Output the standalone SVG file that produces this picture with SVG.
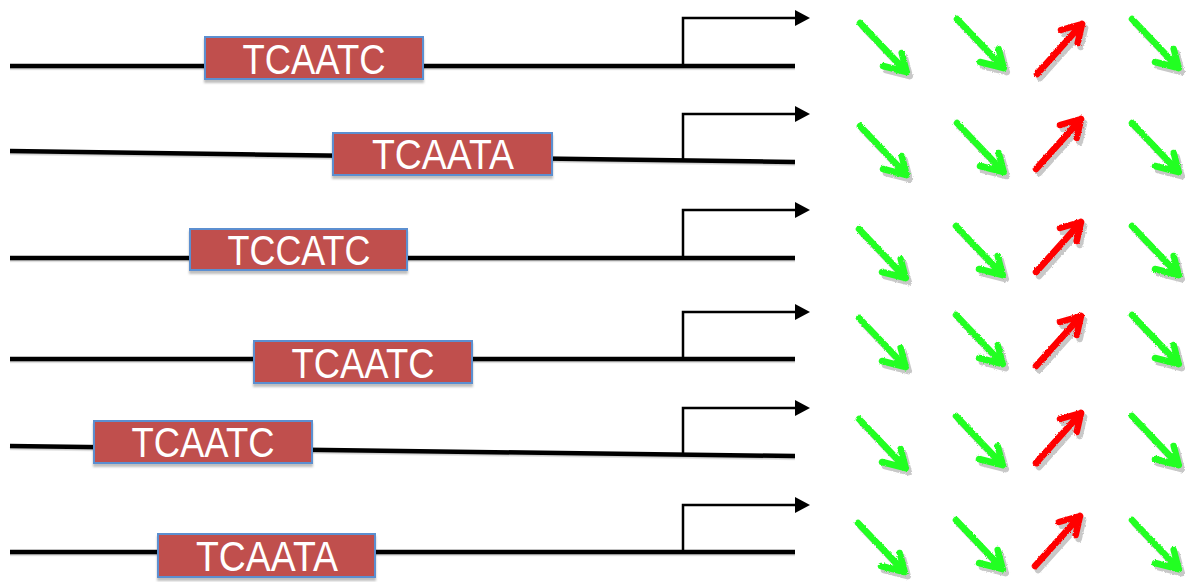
<svg xmlns="http://www.w3.org/2000/svg" xmlns:xlink="http://www.w3.org/1999/xlink" width="1195" height="582" viewBox="0 0 1195 582">
  <style>
    .strand { stroke: #000; stroke-width: 4.5; fill: none; }
    .tss { stroke: #000; stroke-width: 2.5; fill: none; }
    .tss-head { fill: #000; }
    .motif rect { fill: #C0504D; stroke: #5B8FD0; stroke-width: 2; }
    .motif text { fill: #fff; font-family: "Liberation Sans", Arial, sans-serif; font-size: 42px; text-anchor: middle; }
    .chalk { fill: none; stroke-width: 6.5; stroke-linecap: round; stroke-linejoin: round; }
    .up { stroke: #FF0000; }
    .down { stroke: #22FF22; }
    .shade { stroke: #C8C8C8; }
  </style>
  <defs>
    <filter id="boxShadow" x="-10%" y="-20%" width="120%" height="160%">
      <feDropShadow dx="0" dy="3" stdDeviation="1" flood-color="#000" flood-opacity="0.25"/>
    </filter>
    <filter id="lineShadow" x="-5%" y="-200%" width="110%" height="500%">
      <feDropShadow dx="0" dy="1.5" stdDeviation="0.6" flood-color="#000" flood-opacity="0.2"/>
    </filter>
    <filter id="rough" x="-20%" y="-20%" width="140%" height="140%">
      <feTurbulence type="fractalNoise" baseFrequency="0.9" numOctaves="2" seed="3" result="n"/>
      <feDisplacementMap in="SourceGraphic" in2="n" scale="2.5" xChannelSelector="R" yChannelSelector="G"/>
    </filter>
    <!-- hand-drawn arrow shapes, origin at the tail -->
    <path id="downArrow" d="M0,0 L46.7,49 M41.7,30 L46.7,49 L23,43"/>
    <path id="upArrow" d="M0,0 L45,-50 M24,-44 L45,-50 L40.7,-31"/>
    <polygon id="tssHead" points="0,-8 15,0 0,8"/>
  </defs>

  <rect width="1195" height="582" fill="#fff"/>

  <!-- DNA strands and transcription start sites -->
  <g id="connectors">
    <g filter="url(#lineShadow)">
      <line class="strand" x1="10" y1="66" x2="795" y2="66"/>
      <line class="strand" x1="10" y1="151" x2="795" y2="162"/>
      <line class="strand" x1="10" y1="258" x2="795" y2="258"/>
      <line class="strand" x1="10" y1="359" x2="795" y2="359"/>
      <line class="strand" x1="10" y1="446" x2="795" y2="456"/>
      <line class="strand" x1="10" y1="552" x2="795" y2="552"/>
    </g>
    <g id="tss-1"><polyline class="tss" points="683,66 683,18 797,18"/><use href="#tssHead" class="tss-head" x="795" y="18"/></g>
    <g id="tss-2"><polyline class="tss" points="683,160.5 683,114 797,114"/><use href="#tssHead" class="tss-head" x="795" y="114"/></g>
    <g id="tss-3"><polyline class="tss" points="683,258 683,210 797,210"/><use href="#tssHead" class="tss-head" x="795" y="210"/></g>
    <g id="tss-4"><polyline class="tss" points="683,359 683,312 797,312"/><use href="#tssHead" class="tss-head" x="795" y="312"/></g>
    <g id="tss-5"><polyline class="tss" points="683,454.6 683,408 797,408"/><use href="#tssHead" class="tss-head" x="795" y="408"/></g>
    <g id="tss-6"><polyline class="tss" points="683,552 683,505 797,505"/><use href="#tssHead" class="tss-head" x="795" y="505"/></g>
  </g>

  <!-- promoter motifs -->
  <g id="motif-1" class="motif"><rect x="205" y="37" width="218" height="42" filter="url(#boxShadow)"/><text x="314" y="74" textLength="143" lengthAdjust="spacingAndGlyphs">TCAATC</text></g>
  <g id="motif-2" class="motif"><rect x="333" y="133" width="219" height="42" filter="url(#boxShadow)"/><text x="443" y="169" textLength="142" lengthAdjust="spacingAndGlyphs">TCAATA</text></g>
  <g id="motif-3" class="motif"><rect x="190" y="229" width="217" height="41" filter="url(#boxShadow)"/><text x="299" y="265" textLength="143" lengthAdjust="spacingAndGlyphs">TCCATC</text></g>
  <g id="motif-4" class="motif"><rect x="254" y="341" width="218" height="42" filter="url(#boxShadow)"/><text x="363" y="378" textLength="143" lengthAdjust="spacingAndGlyphs">TCAATC</text></g>
  <g id="motif-5" class="motif"><rect x="94" y="421" width="218" height="42" filter="url(#boxShadow)"/><text x="203" y="457" textLength="143" lengthAdjust="spacingAndGlyphs">TCAATC</text></g>
  <g id="motif-6" class="motif"><rect x="158" y="534" width="217" height="43" filter="url(#boxShadow)"/><text x="267" y="571" textLength="142" lengthAdjust="spacingAndGlyphs">TCAATA</text></g>

  <!-- expression changes: shadows first, then coloured strokes -->
  <g id="expression" class="chalk" filter="url(#rough)">
    <g class="shade" transform="translate(3,4)">
      <use href="#downArrow" x="860" y="23"/><use href="#downArrow" x="957" y="19"/><use href="#upArrow" x="1037" y="74"/><use href="#downArrow" x="1132" y="19"/>
      <use href="#downArrow" x="860" y="126"/><use href="#downArrow" x="957" y="123"/><use href="#upArrow" x="1036" y="169"/><use href="#downArrow" x="1132" y="123"/>
      <use href="#downArrow" x="859" y="229"/><use href="#downArrow" x="956" y="226"/><use href="#upArrow" x="1036" y="272"/><use href="#downArrow" x="1132" y="226"/>
      <use href="#downArrow" x="859" y="318"/><use href="#downArrow" x="956" y="315"/><use href="#upArrow" x="1036" y="366"/><use href="#downArrow" x="1132" y="315"/>
      <use href="#downArrow" x="859" y="419"/><use href="#downArrow" x="956" y="416"/><use href="#upArrow" x="1036" y="463"/><use href="#downArrow" x="1132" y="416"/>
      <use href="#downArrow" x="858" y="523"/><use href="#downArrow" x="956" y="520"/><use href="#upArrow" x="1035" y="566"/><use href="#downArrow" x="1132" y="520"/>
    </g>
    <g class="down">
      <use href="#downArrow" x="860" y="23"/><use href="#downArrow" x="957" y="19"/><use href="#downArrow" x="1132" y="19"/>
      <use href="#downArrow" x="860" y="126"/><use href="#downArrow" x="957" y="123"/><use href="#downArrow" x="1132" y="123"/>
      <use href="#downArrow" x="859" y="229"/><use href="#downArrow" x="956" y="226"/><use href="#downArrow" x="1132" y="226"/>
      <use href="#downArrow" x="859" y="318"/><use href="#downArrow" x="956" y="315"/><use href="#downArrow" x="1132" y="315"/>
      <use href="#downArrow" x="859" y="419"/><use href="#downArrow" x="956" y="416"/><use href="#downArrow" x="1132" y="416"/>
      <use href="#downArrow" x="858" y="523"/><use href="#downArrow" x="956" y="520"/><use href="#downArrow" x="1132" y="520"/>
    </g>
    <g class="up">
      <use href="#upArrow" x="1037" y="74"/>
      <use href="#upArrow" x="1036" y="169"/>
      <use href="#upArrow" x="1036" y="272"/>
      <use href="#upArrow" x="1036" y="366"/>
      <use href="#upArrow" x="1036" y="463"/>
      <use href="#upArrow" x="1035" y="566"/>
    </g>
  </g>
</svg>
